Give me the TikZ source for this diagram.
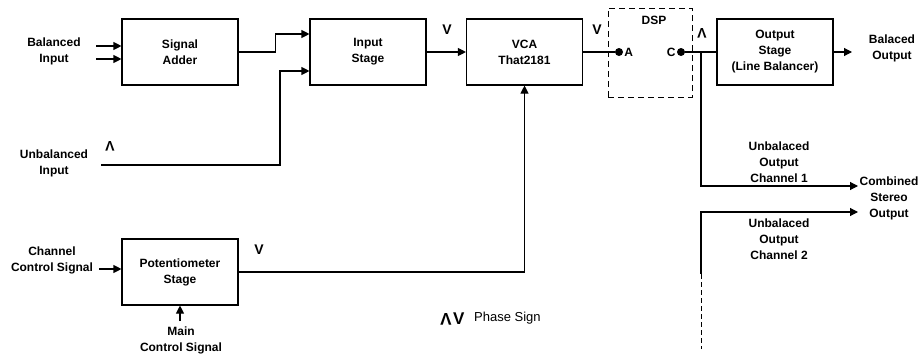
\documentclass[tikz,border=0pt]{standalone}
\usepackage{fontspec}
\usepackage{tikz}
\usetikzlibrary{arrows.meta,calc}
\setmainfont{Liberation Sans}

\begin{document}
\begin{tikzpicture}[x=1pt, y=-1pt,
    block/.style={draw, line width=1.1pt, minimum width=116pt, minimum height=66pt,
      inner sep=0pt, align=center, font=\bfseries\fontsize{12}{16}\selectfont},
    lbl/.style={align=center, inner sep=0pt, font=\bfseries\fontsize{12}{16}\selectfont},
    wire/.style={line width=1.1pt},
    arr/.style={wire, -{Triangle[length=8pt,width=8pt]}},
    phasedn/.style={inner sep=0pt, font=\bfseries\fontsize{14}{14}\selectfont},
    phaseup/.style={phasedn, rotate=180},
    pin/.style={circle, fill, inner sep=0pt, minimum size=8pt}]
  \useasboundingbox (0,0) rectangle (921,356);

  % blocks
  \node[block] (adder) at (180,52) {Signal\\Adder};
  \node[block] (instage) at (368,52) {Input\\Stage};
  \node[block] (vca) at (524.5,52) {VCA\\That2181};
  \node[block] (outstage) at (775,52) {Output\\Stage\\(Line Balancer)};
  \node[block] (pot) at (180,272) {Potentiometer\\Stage};
  \node[draw, dash pattern=on 6pt off 4pt, line width=0.8pt,
    minimum width=84pt, minimum height=89pt] (dsp) at (650,52.5) {};
  \node[lbl] (dsplbl) at (654,20) {DSP};
  \node[pin] (pina) at (619,52) {};
  \node[lbl, anchor=west, inner sep=1pt] (alb) at (pina.east) {A};
  \node[pin] (pinc) at (681,52) {};
  \node[lbl, anchor=east, inner sep=1pt] (clb) at (pinc.west) {C};

  % labels
  \node[lbl] (balin) at (54,51) {Balanced\\Input};
  \node[lbl] (unbin) at (54,163) {Unbalanced\\Input};
  \node[lbl] (ccs) at (52,260) {Channel\\Control Signal};
  \node[lbl] (mcs) at (181,340) {Main\\Control Signal};
  \node[lbl] (balout) at (892,48) {Balaced\\Output};
  \node[lbl] (uo1) at (779,162) {Unbalaced\\Output\\Channel 1};
  \node[lbl] (uo2) at (779,239) {Unbalaced\\Output\\Channel 2};
  \node[lbl] (comb) at (889,198) {Combined\\Stereo\\Output};

  % connectors
  \coordinate (b1) at (96,46);
  \coordinate (b2) at (96,59);
  \draw[arr] (b1) -- (b1 -| adder.west);
  \draw[arr] (b2) -- (b2 -| adder.west);
  \coordinate (in1) at ($(instage.west)+(0,-18)$);
  \coordinate (in2) at ($(instage.west)+(0,19)$);
  \draw[arr] (adder.east) -- ++(37,0) |- (in1);
  \coordinate (ub) at (101,165);
  \draw[arr] (ub) -- ++(179,0) |- (in2);
  \draw[arr] (instage) -- (vca);
  \draw[wire] (vca) -- (pina);
  \draw[wire] (pinc) -- (outstage);
  \coordinate (bo) at (852,52);
  \draw[arr] (outstage) -- (bo);
  \coordinate (tap) at (701,52);
  \coordinate (st1) at (858,186);
  \draw[arr] (tap) |- (st1);
  \coordinate (ch2) at (701,274);
  \coordinate (ch2end) at (701,349);
  \coordinate (st2) at (858,212);
  \draw[arr] (ch2) |- (st2);
  \draw[line width=0.8pt, dash pattern=on 5pt off 3pt] (ch2) -- (ch2end);
  \coordinate (cc) at (99,269);
  \draw[arr] (cc) -- (cc -| pot.west);
  \coordinate (mc) at (180,321);
  \draw[arr] (mc) -- (pot.south);
  \draw[arr] (pot.east) -| (vca.south);

  % phase signs
  \node[phaseup] (ph1) at (110,146) {V};
  \node[phasedn] (ph2) at (447,30) {V};
  \node[phasedn] (ph3) at (597,30) {V};
  \node[phaseup] (ph4) at (702,33) {V};
  \node[phasedn] (ph5) at (259,250) {V};
  \node[phaseup, font=\bfseries\fontsize{17}{17}\selectfont] (phl1) at (446,319) {V};
  \node[phasedn, font=\bfseries\fontsize{17}{17}\selectfont, anchor=west] (phl2) at (453,319) {V};
  \node[anchor=west, inner sep=0pt, font=\fontsize{13}{13}\selectfont] (phs) at (474,318) {Phase Sign};
\end{tikzpicture}
\end{document}
